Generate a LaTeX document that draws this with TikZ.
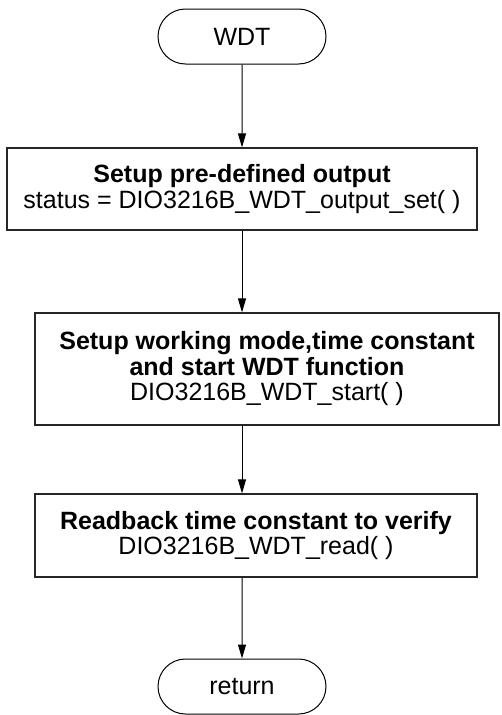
\documentclass[tikz,border=0pt]{standalone}
\usepackage{fontspec}
\setmainfont{Liberation Sans}
\usetikzlibrary{shapes.misc,arrows.meta}

\begin{document}
\begin{tikzpicture}
[every node/.style={inner sep=0pt, align=center, font=\fontsize{25pt}{25.5pt}\selectfont},
 terminal/.style={rounded rectangle, minimum width=168pt, minimum height=55pt, line width=1pt, draw=black},
 stepbox/.style={rectangle, line width=1.2pt, draw=black!85},
 flow/.style={line width=1pt, -{Triangle[length=14pt, width=8pt]}, color=black}]
\useasboundingbox (0pt, 0pt) rectangle (501pt, -715pt);
\node (wdt) [terminal] at (242pt, -36.5pt) {WDT};
\node (setup) [stepbox, minimum width=470pt, minimum height=82pt] at (242pt, -189pt) {\textbf{Setup pre-defined output}\\status = DIO3216B\_WDT\_output\_set( )};
\node (mode) [stepbox, minimum width=464pt, minimum height=112pt] at (267pt, -369pt) {\textbf{Setup working mode,time constant}\\\textbf{and start WDT function}\\DIO3216B\_WDT\_start( )};
\node (readback) [stepbox, minimum width=442pt, minimum height=83pt] at (256pt, -535.5pt) {\textbf{Readback time constant to verify}\\DIO3216B\_WDT\_read( )};
\node (ret) [terminal] at (242pt, -686.5pt) {return};
\draw [flow] (wdt) -- (setup);
\draw [flow] (setup) -- (setup |- mode.north);
\draw [flow] (setup |- mode.south) -- (setup |- readback.north);
\draw [flow] (setup |- readback.south) -- (ret);
\end{tikzpicture}
\end{document}
